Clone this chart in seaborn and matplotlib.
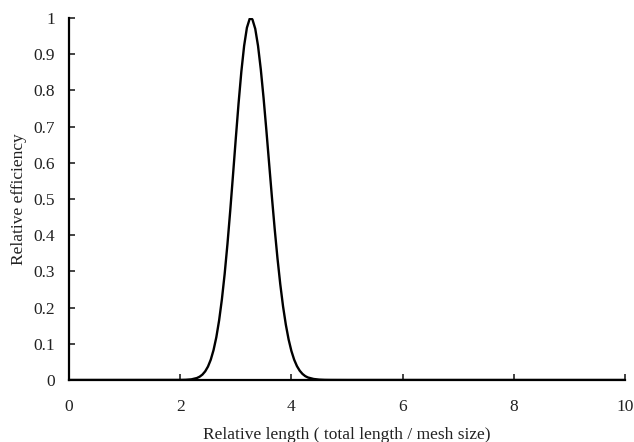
import numpy as np
import pandas as pd
import matplotlib
matplotlib.use("Agg")
import matplotlib.pyplot as plt
import seaborn as sns

# relative length (total length / mesh size) and relative efficiency
rel_length = [0.0, 2.0, 2.1, 2.2, 2.3, 2.35, 2.4, 2.45, 2.5, 2.55, 2.6, 2.65, 2.7, 2.75,
              2.8, 2.85, 2.9, 2.95, 3.0, 3.05, 3.1, 3.15, 3.2, 3.25, 3.27, 3.3, 3.35,
              3.4, 3.45, 3.5, 3.55, 3.6, 3.65, 3.7, 3.75, 3.8, 3.85, 3.9, 3.95, 4.0,
              4.05, 4.1, 4.15, 4.2, 4.25, 4.3, 4.4, 4.5, 4.6, 4.7, 5.0, 10.0]
rel_eff = [0.0, 0.0001, 0.0005, 0.0017, 0.0054, 0.0091, 0.0149, 0.0239, 0.0371, 0.0561,
           0.0826, 0.1181, 0.1645, 0.2226, 0.2931, 0.3753, 0.4674, 0.5661, 0.667, 0.7642,
           0.8517, 0.9231, 0.9731, 0.9978, 1.0, 0.9957, 0.9702, 0.9231, 0.8578, 0.7785,
           0.69, 0.5972, 0.5048, 0.4167, 0.336, 0.2646, 0.2034, 0.1528, 0.112, 0.0802,
           0.0561, 0.0383, 0.0256, 0.0167, 0.0106, 0.0068, 0.0028, 0.001, 0.0003, 0.0001,
           0.0, 0.0]

x_ticks = [0, 2, 4, 6, 8, 10]
y_ticks = [0, 0.1, 0.2, 0.3, 0.4, 0.5, 0.6, 0.7, 0.8, 0.9, 1]
y_labels = ["0", "0.1", "0.2", "0.3", "0.4", "0.5", "0.6", "0.7", "0.8", "0.9", "1"]

df = pd.DataFrame({"x": rel_length, "y": rel_eff})

sns.set_style("ticks")
plt.rcParams["font.family"] = ["Liberation Serif", "DejaVu Serif"]

fig = plt.figure(figsize=(6.34, 4.42), dpi=100)
ax = fig.add_axes([0.1088, 0.1403, 0.877, 0.819])

sns.lineplot(data=df, x="x", y="y", color="black", linewidth=1.7, ax=ax)

ax.set_xlim(0, 10)
ax.set_ylim(0, 1)
ax.set_xticks(x_ticks)
ax.set_xticklabels([str(t) for t in x_ticks])
ax.set_yticks(y_ticks)
ax.set_yticklabels(y_labels)
ax.tick_params(axis="both", direction="in", length=4.5, width=1.2,
               labelsize=12.5, colors="#222222")
ax.tick_params(axis="x", pad=14)
ax.tick_params(axis="y", pad=10)

for side in ["top", "right"]:
    ax.spines[side].set_visible(False)
for side in ["left", "bottom"]:
    ax.spines[side].set_linewidth(1.6)
    ax.spines[side].set_color("black")

ax.set_xlabel("Relative length ( total length / mesh size)", fontsize=12.5,
              labelpad=8, color="#222222")
ax.set_ylabel("Relative efficiency", fontsize=12.5, labelpad=5, color="#222222")

fig.savefig("out.png", dpi=100)
